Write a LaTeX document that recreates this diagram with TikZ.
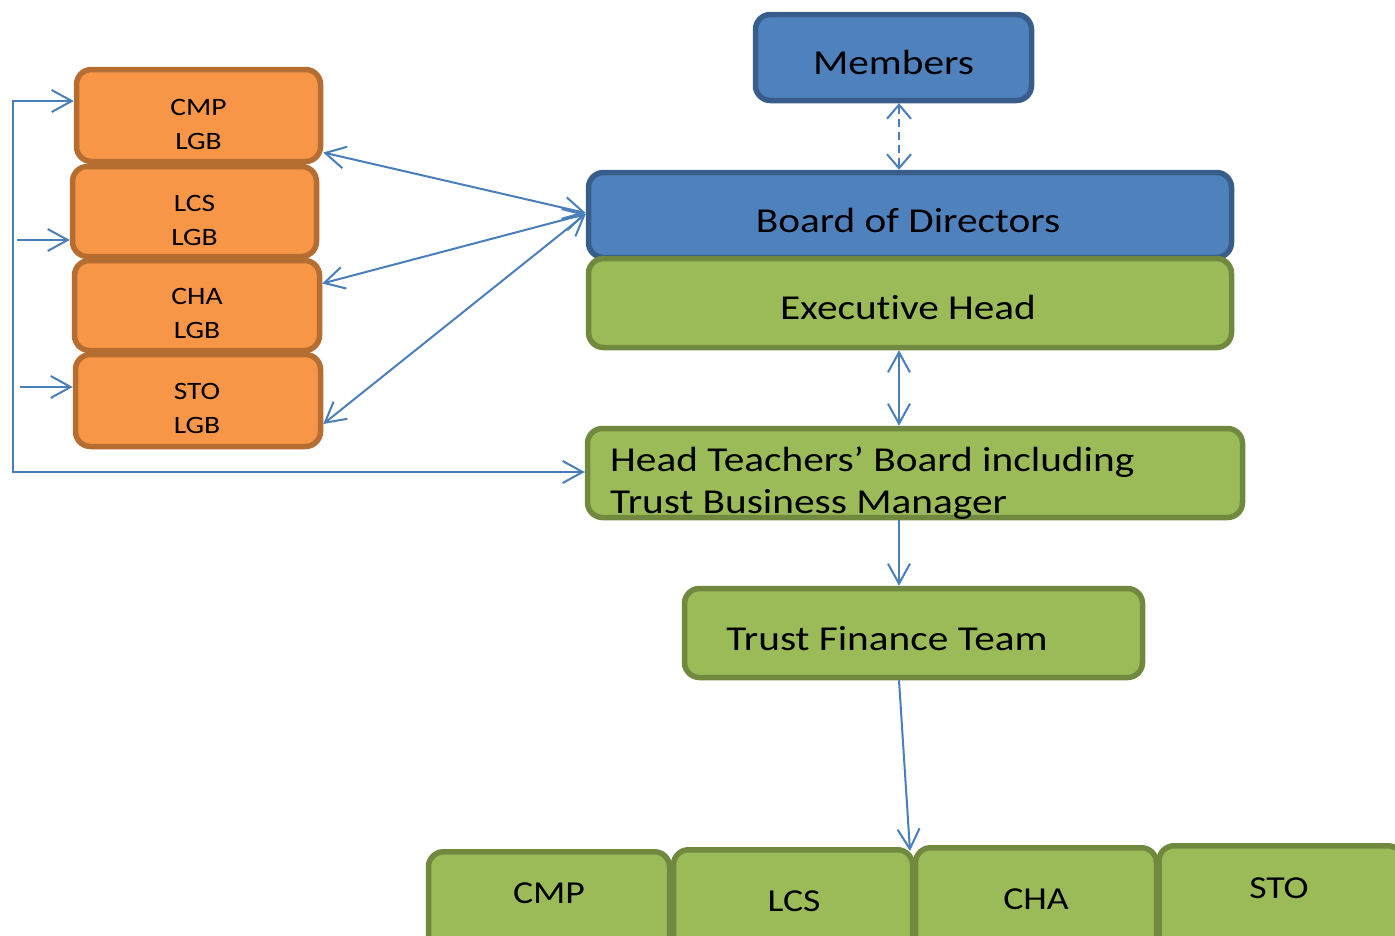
\documentclass[tikz,border=0pt]{standalone}
\usepackage{fontspec}
\setmainfont{Carlito}[FakeStretch=1.18, Ligatures={NoCommon}]
\usetikzlibrary{arrows.meta}
\definecolor{bfill}{HTML}{4F81BD}
\definecolor{bline}{HTML}{385D8A}
\definecolor{gfill}{HTML}{9BBB59}
\definecolor{gline}{HTML}{71893F}
\definecolor{ofill}{HTML}{F79646}
\definecolor{oline}{HTML}{B66D31}
\definecolor{conn}{HTML}{4A7EBB}
\tikzset{
  box/.style={rounded corners=15pt, line width=5.5pt, inner sep=0pt, align=center},
  bluebox/.style={box, fill=bfill, draw=bline},
  greenbox/.style={box, fill=gfill, draw=gline},
  orangebox/.style={box, fill=ofill, draw=oline},
  bigtxt/.style={font=\fontsize{35}{42}\selectfont, inner sep=0pt},
  lgbtxt/.style={font=\fontsize{25}{34}\selectfont, align=center, inner sep=0pt},
  bottxt/.style={font=\fontsize{32}{40}\selectfont, inner sep=0pt},
  conline/.style={draw=conn, line width=2pt},
  bigbarb/.tip={Straight Barb[length=20pt,width=22pt,line width=2pt]},
  smallbarb/.tip={Straight Barb[length=14pt,width=24pt,line width=2pt]}
}
\begin{document}
\begin{tikzpicture}[x=1pt,y=-1pt]
\useasboundingbox (0,0) rectangle (1395,935);
% main column
\node[bluebox, minimum width=276pt, minimum height=86pt] (mem) at (893.5,57.5) {};
\node[bigtxt] (memt) at (893.5,62) {Members};
\node[bluebox, minimum width=643pt, minimum height=85pt] (bod) at (910,215) {};
\node[bigtxt] (bodt) at (908,220) {Board of Directors};
\node[greenbox, minimum width=643pt, minimum height=89pt] (exh) at (910,303) {};
\node[bigtxt] (exht) at (908,307) {Execut\kern0pt ive Head};
\node[greenbox, minimum width=655pt, minimum height=89pt] (htb) at (915,473) {};
\node[anchor=west, align=left, inner sep=0pt, font=\fontsize{35}{42}\selectfont] (httxt) at (610,483) {Head Teachers’ Board including\\Trust Business Manager};
\node[greenbox, minimum width=458pt, minimum height=89pt] (tft) at (913.5,633) {};
\node[bigtxt] (tfttxt) at (887,639) {Trust Finance Team};
% bottom row
\node[greenbox, minimum width=241pt, minimum height=110pt, anchor=north] (bcmp) at (549,849) {};
\node[bottxt] (bcmpt) at (549,893) {CMP};
\node[greenbox, minimum width=239pt, minimum height=110pt, anchor=north] (blcs) at (793,847) {};
\node[bottxt] (blcst) at (794,901) {LCS};
\node[greenbox, minimum width=241pt, minimum height=110pt, anchor=north] (bcha) at (1036,845) {};
\node[bottxt] (bchat) at (1036,899) {CHA};
\node[greenbox, minimum width=244pt, minimum height=110pt, anchor=north] (bsto) at (1281,843) {};
\node[bottxt] (bstot) at (1279,888) {STO};
% orange LGB column
\node[orangebox, minimum width=244pt, minimum height=92pt] (cmpl) at (198.5,115.5) {};
\node[lgbtxt] (cmplt) at (198.5,124) {CMP\\LGB};
\node[orangebox, minimum width=244pt, minimum height=90pt] (lcsl) at (194.5,211.5) {};
\node[lgbtxt] (lcslt) at (194.5,220) {LCS\\LGB};
\node[orangebox, minimum width=245pt, minimum height=90pt] (chal) at (197,305.5) {};
\node[lgbtxt] (chalt) at (197,313) {CHA\\LGB};
\node[orangebox, minimum width=245pt, minimum height=92pt] (stol) at (198,400.5) {};
\node[lgbtxt] (stolt) at (197,408) {STO\\LGB};
% coordinates
\coordinate (vx) at (899,0);
\coordinate (c1) at (13,101);
\coordinate (c2) at (13,472);
\coordinate (b1) at (17,240);
\coordinate (b2) at (20,387);
\coordinate (bt) at (910,851);
% connectors
\draw[conline, dash pattern=on 8pt off 5pt, {smallbarb}-{smallbarb}] (mem.south -| vx) -- (bod.north -| vx);
\draw[conline, {bigbarb}-{bigbarb}] ([yshift=-37pt]cmpl.east) -- ([yshift=2pt]bod.west);
\draw[conline, {bigbarb}-{bigbarb}] ([yshift=22pt]chal.east) -- ([yshift=1pt]bod.west);
\draw[conline, {bigbarb}-{bigbarb}] ([yshift=-23.5pt]stol.east) -- ([yshift=1pt]bod.west);
\draw[conline, {bigbarb}-{bigbarb}] (exh.south -| vx) -- (htb.north -| vx);
\draw[conline, -{bigbarb}] (htb.south -| vx) -- (tft.north -| vx);
\draw[conline, -{bigbarb}] (tft.south -| vx) -- (bt);
\draw[conline, {bigbarb}-{bigbarb}] ([yshift=14.5pt]cmpl.west) -- (c1) -- (c2) -- (htb.west |- c2);
\draw[conline, -{bigbarb}] (b1) -- (lcsl.west |- b1);
\draw[conline, -{bigbarb}] (b2) -- (stol.west |- b2);
\end{tikzpicture}
\end{document}
